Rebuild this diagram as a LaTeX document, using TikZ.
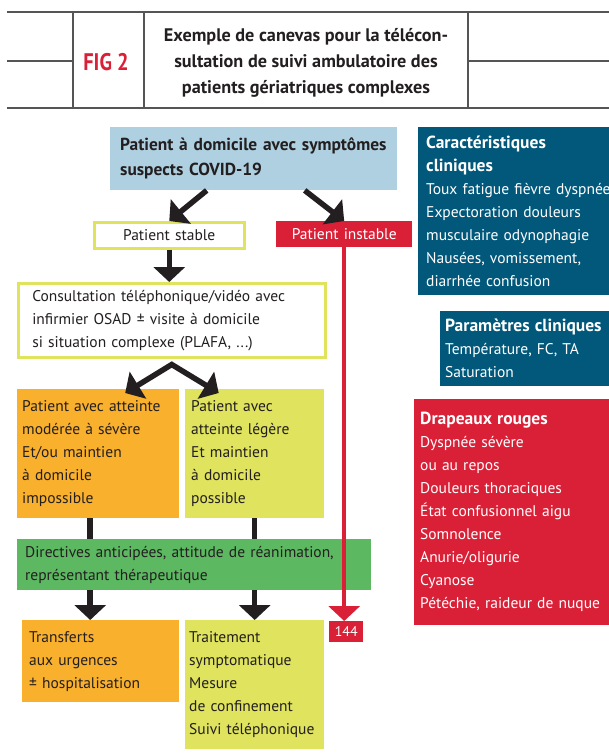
\documentclass[tikz,border=0pt]{standalone}
\usepackage{fontspec}
\setmainfont{PT Sans}
\usetikzlibrary{arrows.meta,positioning}

\definecolor{ink}{HTML}{231F20}
\definecolor{rulegray}{HTML}{555555}
\definecolor{figred}{HTML}{DA2037}
\definecolor{skyblue}{HTML}{AFD0E0}
\definecolor{lime}{HTML}{DFE35E}
\definecolor{amber}{HTML}{F9B02D}
\definecolor{leaf}{HTML}{5DB862}
\definecolor{petrol}{HTML}{02587A}

\newcommand{\headline}[1]{{\fontsize{17.5}{23}\selectfont\bfseries #1}}

\tikzset{
    txt/.style={font=\fontsize{15.5}{23}\selectfont, text=ink},
    flowbox/.style={txt, anchor=north west, inner ysep=0pt, align=left},
    outlinebox/.style={flowbox, draw=lime, line width=2.5pt, fill=white},
    infobox/.style={flowbox, text=white},
    bigarrow/.style={line width=5.5pt, draw=ink, -{Triangle[width=31pt,length=15pt]}},
}

\begin{document}
\begin{tikzpicture}[x=1pt, y=-1pt]
    \useasboundingbox (0, 0) rectangle (609, 756);

    % header
    \begin{scope}[draw=rulegray, line width=1.5pt]
        \draw (7, 12) -- (609, 12);
        \draw (7, 108) -- (609, 108);
        \draw (7, 61) -- (73, 61);
        \draw (468, 61) -- (609, 61);
        \draw (73, 12) -- (73, 108);
        \draw (144, 12) -- (144, 108);
        \draw (468, 12) -- (468, 108);
    \end{scope}
    \node[text=figred, font=\bfseries\fontsize{24}{24}\selectfont] (fig) at (106, 62) {\scalebox{0.85}[1]{FIG 2}};
    \node[align=center, text=ink, font=\bfseries\fontsize{18.2}{26}\selectfont] (title) at (306, 63)
        {Exemple de canevas pour la télécon-\\sultation de suivi ambulatoire des\\patients gériatriques complexes};

    % flowchart
    \node[flowbox, fill=skyblue, inner xsep=10pt, text width=267pt, minimum height=63pt, font=\bfseries\fontsize{17.4}{25}\selectfont] (home) at (110, 127)
        {Patient à domicile avec symptômes\\suspects COVID-19};
    \node[outlinebox, align=center, inner xsep=0pt, text width=150pt, minimum height=26pt] (stable) at (93, 221) {Patient stable};
    \node[infobox, fill=figred, align=center, inner xsep=0pt, text width=136pt, minimum height=26pt] (unstable) at (276, 221) {Patient instable};
    \node[outlinebox, inner xsep=14pt, text width=279pt, minimum height=74pt] (consult) at (17, 282)
        {Consultation téléphonique/vidéo avec\\infirmier OSAD ± visite à domicile\\si situation complexe (PLAFA, ...)};
    \node[flowbox, fill=amber, inner xsep=5pt, text width=152pt, minimum height=129pt] (severe) at (17, 389)
        {Patient avec atteinte\\modérée à sévère\\Et/ou maintien\\à domicile\\impossible};
    \node[flowbox, fill=lime, inner xsep=6pt, text width=127pt, minimum height=129pt] (mild) at (185, 389)
        {Patient avec\\atteinte légère\\Et maintien\\à domicile\\possible};
    \node[flowbox, fill=leaf, inner xsep=8pt, text width=338pt, minimum height=51pt] (advance) at (17, 539)
        {Directives anticipées, attitude de réanimation,\\représentant thérapeutique};
    \node[flowbox, fill=amber, inner xsep=7pt, text width=143pt, minimum height=82pt] (transfer) at (22, 620)
        {Transferts\\aux urgences\\± hospitalisation};
    \node[flowbox, fill=lime, inner xsep=4pt, text width=131pt, minimum height=129pt] (care) at (185, 620)
        {Traitement\\symptomatique\\Mesure\\de confinement\\Suivi téléphonique};
    \node[infobox, fill=figred, align=center, inner xsep=0pt, text width=34pt, minimum height=21pt, font=\fontsize{14}{14}\selectfont] (emerg) at (329, 621) {144};

    % side panels
    \node[infobox, fill=petrol, inner xsep=8pt, text width=210pt, minimum height=168pt] (signs) at (418, 127)
        {\headline{Caractéristiques}\\\headline{cliniques}\\Toux fatigue fièvre dyspnée\\Expectoration douleurs\\musculaire odynophagie\\Nausées, vomissement,\\diarrhée confusion};
    \node[infobox, fill=petrol, inner xsep=5pt, text width=190pt, minimum height=75pt] (params) at (440, 311)
        {\headline{Paramètres cliniques}\\Température, FC, TA\\Saturation};
    \node[infobox, fill=figred, inner xsep=6pt, text width=210pt, minimum height=226pt] (flags) at (414, 399)
        {\headline{Drapeaux rouges}\\Dyspnée sévère\\ou au repos\\Douleurs thoraciques\\État confusionnel aigu\\Somnolence\\Anurie/oligurie\\Cyanose\\Pétéchie, raideur de nuque};

    % connectors
    \draw[bigarrow] ([xshift=-47pt]home.south) -- (stable.north);
    \draw[bigarrow] ([xshift=51pt]home.south) -- (unstable.north);
    \draw[bigarrow] (stable.south) -- (stable.south |- consult.north);
    \coordinate (fork) at ([yshift=-6pt]consult.south);
    \draw[bigarrow, {Triangle[width=31pt,length=15pt]}-{Triangle[width=31pt,length=15pt]}, line join=miter]
        ([xshift=27pt, yshift=-4pt]severe.north) -- (fork) -- ([xshift=-36pt, yshift=-4pt]mild.north);
    \coordinate (left col) at ([xshift=-8pt]severe.south);
    \coordinate (mid col) at (mild.south);
    \draw[line width=5.5pt, ink] (left col) -- (left col |- advance.north);
    \draw[line width=5.5pt, ink] (mid col) -- (mid col |- advance.north);
    \draw[bigarrow] (left col |- advance.south) -- (left col |- transfer.north);
    \draw[bigarrow] (mid col |- advance.south) -- (mid col |- care.north);
    \draw[line width=4.5pt, figred, -{Triangle[width=31pt,length=15pt]}] (unstable.south) -- (unstable.south |- emerg.north);
\end{tikzpicture}
\end{document}
